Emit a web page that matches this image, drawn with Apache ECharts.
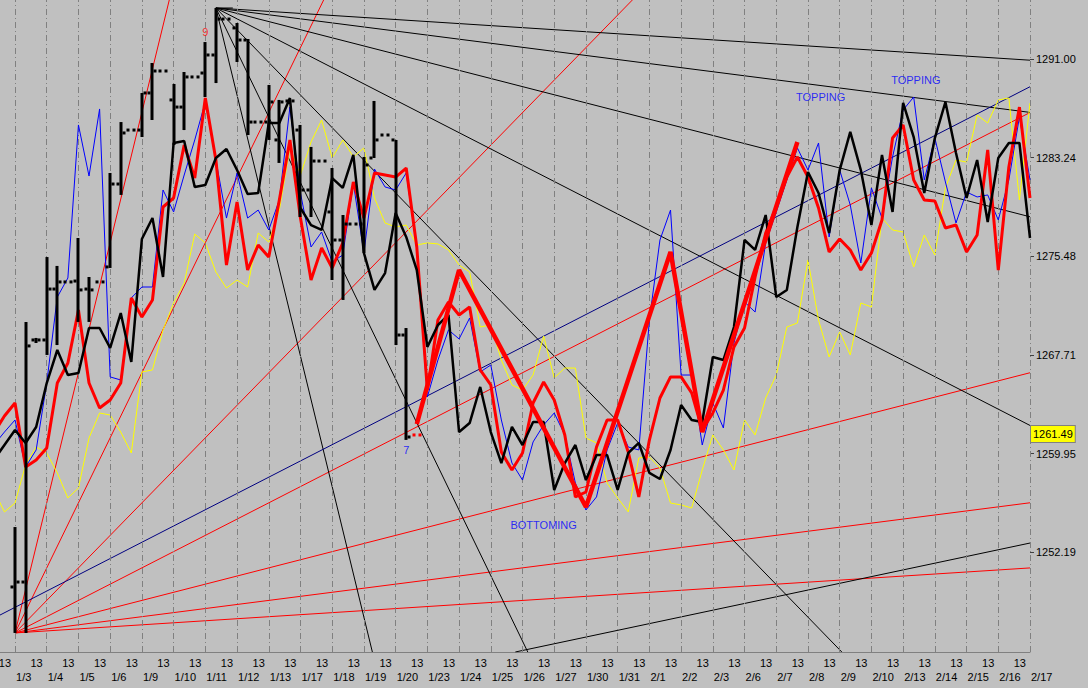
<!DOCTYPE html>
<html>
<head>
<meta charset="utf-8">
<script src="https://cdn.jsdelivr.net/npm/echarts@6/dist/echarts.min.js"></script>
<style>
html,body{margin:0;padding:0;background:#c0c0c0;}
#chart{width:1088px;height:688px;}
</style>
</head>
<body>
<div id="chart"></div>
<script>
// ---------- tick labels ----------
const dates = ['1/3','1/4','1/5','1/6','1/9','1/10','1/11','1/12','1/13','1/17','1/18','1/19','1/20','1/23','1/24','1/25','1/26','1/27','1/30','1/31','2/1','2/2','2/3','2/6','2/7','2/8','2/9','2/10','2/13','2/14','2/15','2/16','2/17'];
const timeLabels = ['13','13','13','13','13','13','13','13','13','13','13','13','13','13','13','13','13','13','13','13','13','13','13','13','13','13','13','13','13','13','13','13','13'];
const priceTicks = [1291.00, 1283.24, 1275.48, 1267.71, 1259.95, 1252.19];
const lastPrice = 1261.49;

// ---------- line series (one value per slot, first slot = -2; 3 slots per day) ----------
const firstSlot = -2;
const blueLine = [1260.62,1261.64,1262.59,1258.89,1260.23,1265.50,1272.27,1273.77,1285.82,1281.80,1287.08,1265.98,1265.74,1272.20,1273.06,1273.06,1280.70,1278.97,1281.88,1284.64,1287.63,1283.06,1278.49,1282.04,1278.49,1279.12,1277.55,1279.91,1287.23,1280.46,1276.21,1277.39,1275.03,1275.58,1281.25,1275.74,1282.35,1280.94,1280.70,1282.04,1276.21,1264.40,1267.31,1269.68,1268.97,1270.62,1266.37,1266.92,1262.59,1259.20,1257.86,1260.86,1262.20,1263.14,1261.41,1257.63,1255.50,1256.53,1260.23,1262.35,1260.46,1260.23,1270.46,1276.76,1279.12,1266.13,1266.13,1260.62,1263.93,1261.96,1268.65,1271.88,1271.09,1276.53,1278.97,1281.49,1284.01,1282.27,1284.40,1277.00,1282.27,1279.52,1274.95,1280.86,1278.49,1283.30,1287.00,1288.02,1281.49,1284.79,1281.33,1278.10,1280.54,1280.15,1280.31,1278.34,1281.49,1286.45,1281.49];
const redLine = [1261.57,1262.90,1263.93,1258.89,1259.44,1260.38,1265.50,1267.08,1271.25,1265.50,1263.53,1264.16,1265.50,1272.20,1270.70,1272.04,1279.36,1280.07,1284.24,1281.64,1287.94,1283.06,1274.79,1279.75,1274.40,1276.37,1275.42,1279.91,1284.64,1278.49,1273.61,1276.13,1274.56,1276.53,1281.33,1278.49,1282.04,1281.88,1281.72,1282.43,1276.21,1264.95,1270.46,1271.88,1270.86,1271.49,1266.53,1265.35,1260.07,1258.65,1259.99,1263.93,1265.58,1264.16,1261.41,1256.53,1256.92,1260.46,1262.59,1262.59,1260.07,1256.53,1261.01,1264.32,1265.98,1265.98,1264.72,1261.80,1263.14,1264.95,1268.34,1269.83,1273.85,1277.31,1279.36,1281.72,1283.30,1281.72,1279.28,1275.82,1276.84,1275.97,1274.40,1275.74,1278.34,1284.79,1285.82,1281.49,1279.91,1279.83,1277.71,1277.94,1275.82,1277.16,1283.85,1274.40,1282.51,1287.23,1280.07];
const blackLine = [1259.44,1260.62,1261.80,1260.78,1262.04,1265.50,1268.10,1266.13,1266.29,1269.83,1269.83,1268.26,1271.01,1267.16,1276.84,1278.49,1273.85,1284.40,1284.56,1280.94,1281.09,1283.22,1283.93,1282.27,1280.38,1280.46,1285.97,1285.97,1287.94,1279.28,1277.94,1277.55,1281.64,1280.86,1283.46,1275.74,1272.83,1274.16,1278.89,1277.00,1274.40,1268.34,1270.07,1270.86,1261.64,1262.35,1265.19,1261.64,1259.20,1262.04,1260.62,1262.43,1262.43,1257.08,1259.20,1260.62,1257.86,1259.83,1259.83,1257.08,1259.99,1260.78,1258.42,1257.94,1260.23,1263.77,1262.59,1262.43,1267.55,1267.31,1269.91,1276.76,1275.98,1278.73,1272.27,1272.83,1277.79,1282.12,1280.46,1277.31,1282.27,1285.27,1282.27,1277.94,1283.46,1278.97,1287.55,1284.87,1280.46,1284.79,1287.63,1283.61,1280.07,1283.06,1278.18,1283.22,1284.40,1284.40,1276.92];
const yellowLine = [1257.08,1255.35,1256.05,1259.05,1260.46,1259.99,1258.42,1256.45,1257.23,1261.17,1263.14,1262.98,1261.64,1259.99,1266.37,1266.53,1269.68,1271.80,1273.38,1277.23,1276.53,1274.24,1272.98,1273.61,1273.06,1277.31,1276.60,1279.12,1284.01,1281.88,1284.48,1286.21,1283.22,1284.64,1283.30,1284.01,1280.07,1278.10,1277.79,1277.94,1276.37,1276.53,1276.45,1275.98,1274.79,1274.24,1269.91,1270.07,1267.31,1265.35,1264.95,1266.13,1269.20,1265.90,1266.68,1266.68,1261.17,1260.78,1257.63,1256.45,1255.35,1259.60,1259.68,1258.81,1256.05,1255.90,1255.66,1258.65,1261.41,1260.23,1258.65,1262.59,1261.41,1264.32,1266.13,1269.91,1270.23,1275.19,1270.46,1267.55,1269.52,1267.71,1271.80,1271.49,1278.49,1277.55,1277.39,1274.64,1277.16,1275.58,1280.86,1283.06,1282.90,1286.60,1285.97,1287.79,1287.94,1279.91,1287.55];

// thick red swing line
const swingSlots = [38, 42, 54, 62, 65, 74];
const swingValues = [1262.27, 1274.40, 1255.74, 1275.82, 1261.64, 1284.48];

// ---------- OHLC bars, slots 0..38 ----------
const ohlcOpen  = [1249.44,1249.83,1268.89,1268.89,1272.90,1273.46,1273.53,1272.90,1273.46,1274.64,1281.17,1285.42,1285.42,1288.34,1290.07,1287.79,1287.23,1289.60,1289.91,1291.33,1294.16,1293.46,1292.51,1286.05,1286.05,1284.64,1287.71,1285.42,1280.70,1282.98,1278.97,1276.76,1278.02,1278.02,1283.22,1285.03,1284.64,1269.28,1261.41];
const ohlcHigh  = [1254.16,1270.31,1269.05,1275.42,1274.72,1273.46,1276.92,1273.85,1273.46,1282.04,1286.05,1285.42,1288.34,1290.70,1290.07,1289.05,1289.99,1289.60,1292.35,1295.03,1294.16,1293.85,1292.59,1286.05,1288.97,1287.79,1287.71,1285.82,1284.09,1282.98,1282.43,1278.73,1278.02,1283.30,1287.71,1285.03,1284.64,1269.83,1261.41];
const ohlcLow   = [1245.82,1245.82,1268.65,1267.71,1268.49,1273.46,1270.31,1270.31,1273.46,1274.56,1280.31,1285.42,1284.87,1286.21,1290.07,1284.24,1285.42,1289.60,1288.02,1289.12,1294.16,1290.78,1285.03,1286.05,1284.64,1282.83,1287.71,1278.57,1278.57,1282.98,1273.61,1272.04,1278.02,1275.74,1283.22,1285.03,1268.49,1261.02,1261.41];
const ohlcClose = [1249.83,1268.42,1268.89,1272.90,1273.46,1273.46,1272.83,1272.83,1273.46,1281.17,1285.19,1285.42,1288.34,1290.07,1290.07,1287.23,1289.60,1289.60,1291.33,1294.16,1294.16,1292.51,1286.05,1286.05,1287.63,1287.63,1287.71,1280.70,1282.98,1282.98,1276.76,1278.02,1278.02,1282.67,1284.64,1285.03,1269.28,1261.25,1261.41];

// ---------- fan / trend lines: [slot1, price1, slot2, price2] ----------
const blackFan = [
  [19, 1295.03, 96, 1290.92],
  [19, 1295.03, 96, 1286.81],
  [19, 1295.03, 96, 1278.59],
  [19, 1295.03, 96, 1262.16],
  [19, 1295.03, 78.2, 1244.32],
  [19, 1295.03, 48.5, 1244.32],
  [19, 1295.03, 33.8, 1244.32],
  [19, 1295.03, 20.6, 1295.03],
  [47.32, 1244.32, 96, 1252.90]
];
const redFan = [
  [0, 1245.82, 14.59, 1295.66],
  [0, 1245.82, 29.19, 1295.66],
  [0, 1245.82, 58.39, 1295.66],
  [0, 1245.82, 96, 1286.80],
  [0, 1245.82, 96, 1266.31],
  [0, 1245.82, 96, 1256.07],
  [0, 1245.82, 96, 1250.94]
];
const navyChannel = [[-1.42, 1247.23, 96, 1288.83]];

// ---------- annotations: [slot, price, text] ----------
const notes = [
  [18, 1293.14, '9'],
  [37, 1260.23, '7'],
  [76.2, 1288.02, 'TOPPING'],
  [85.2, 1289.36, 'TOPPING'],
  [50, 1254.32, 'BOTTOMING']
];

// ---------- chart ----------
const FONT = '"Liberation Sans", Arial, sans-serif';
const X_MIN = -1.42, X_MAX = 96;
const Y_MIN = 1244.32, Y_MAX = 1295.66;
const gridSlots = dates.map((d, i) => i * 3);

function lineSeries(values, color, width, z) {
  return {
    type: 'line', data: values.map((v, i) => [i + firstSlot, v]),
    symbol: 'none', lineStyle: { color, width }, z, silent: true, animation: false, clip: true
  };
}
function segSeries(seg, color, width, z) {
  return {
    type: 'line', data: [[seg[0], seg[1]], [seg[2], seg[3]]],
    symbol: 'none', lineStyle: { color, width }, z, silent: true, animation: false, clip: true
  };
}

const series = [];
// gridlines
series.push({
  type: 'scatter', data: [[-10, 1200]], symbolSize: 0, z: 1, silent: true, animation: false,
  markLine: {
    silent: true, symbol: 'none', animation: false,
    lineStyle: { color: '#808080', width: 1, type: [6, 3, 1, 3] },
    label: { show: false },
    data: gridSlots.map(v => ({ xAxis: v }))
  }
});
// last price marker
series.push({
  type: 'scatter', data: [[-10, 1200]], symbolSize: 0, z: 20, silent: true, animation: false,
  markLine: {
    silent: true, symbol: 'none', animation: false,
    lineStyle: { color: 'rgba(0,0,0,0)', width: 1, type: 'solid' },
    label: {
      show: true, position: 'end', formatter: lastPrice.toFixed(2), distance: 1,
      backgroundColor: '#ffff00', borderColor: '#808080', borderWidth: 1,
      padding: [3, 2, 2, 2], color: '#000', fontSize: 11, fontFamily: FONT
    },
    data: [{ yAxis: lastPrice }]
  }
});
redFan.forEach(s => series.push(segSeries(s, '#ff0000', 1, 3)));
blackFan.forEach(s => series.push(segSeries(s, '#000000', 1, 3)));
navyChannel.forEach(s => series.push(segSeries(s, '#000080', 1, 3)));
series.push(lineSeries(yellowLine, '#ffff00', 1, 4));
series.push(lineSeries(blueLine, '#0000ff', 1, 5));
series.push(lineSeries(redLine, '#ff0000', 3, 6));
series.push(lineSeries(blackLine, '#000000', 2.5, 7));
series.push({
  type: 'custom', z: 8, silent: true, animation: false,
  data: ohlcOpen.map((o, i) => [i, o, ohlcHigh[i], ohlcLow[i], ohlcClose[i]]),
  encode: { x: 0, y: [1, 2, 3, 4] },
  renderItem: function (params, api) {
    const s = api.value(0);
    const o = api.coord([s, api.value(1)]);
    const h = api.coord([s, api.value(2)]);
    const l = api.coord([s, api.value(3)]);
    const c = api.coord([s, api.value(4)]);
    const color = params.dataIndex === ohlcOpen.length - 1 ? '#ff0000' : '#000000';
    const x = Math.round(o[0]);
    return {
      type: 'group', children: [
        { type: 'rect', shape: { x: x - 1.5, y: h[1], width: 3, height: Math.max(0, l[1] - h[1]) }, style: { fill: color } },
        { type: 'rect', shape: { x: x - 4.5, y: o[1] - 1.5, width: 3, height: 3 }, style: { fill: color } },
        { type: 'rect', shape: { x: x + 1.5, y: c[1] - 1.5, width: 3, height: 3 }, style: { fill: color } }
      ]
    };
  }
});
series.push({
  type: 'line', data: swingSlots.map((s, i) => [s, swingValues[i]]),
  symbol: 'none', lineStyle: { color: '#ff0000', width: 4.5 }, z: 9, silent: true, animation: false
});
series.push({
  type: 'scatter', symbolSize: 0, z: 10, silent: true, animation: false,
  data: notes.map(n => ({ value: [n[0], n[1]], name: n[2], label: { color: n[2] === '9' ? '#ff0000' : '#0000ff' } })),
  label: { show: true, position: 'inside', formatter: p => p.name, fontSize: 11, fontFamily: FONT }
});

const chart = echarts.init(document.getElementById('chart'), null, { renderer: 'svg' });
chart.setOption({
  animation: false,
  backgroundColor: '#c0c0c0',
  grid: { left: 0, right: 58, top: 0, bottom: 36, containLabel: false, outerBoundsMode: 'none' },
  xAxis: [
    {
      type: 'value', min: X_MIN, max: X_MAX, position: 'bottom',
      splitLine: { show: false },
      axisLine: { show: true, onZero: false, lineStyle: { color: '#808080', width: 1 } },
      axisTick: { show: true, inside: true, length: 4, customValues: gridSlots, lineStyle: { color: '#808080' } },
      axisLabel: {
        customValues: gridSlots, formatter: v => timeLabels[Math.round(v / 3)],
        align: 'right', padding: [0, 4, 0, 0], margin: 5, color: '#000', fontSize: 11, fontFamily: FONT
      }
    },
    {
      type: 'value', min: X_MIN, max: X_MAX, position: 'bottom', offset: 14,
      splitLine: { show: false }, axisLine: { show: false, onZero: false }, axisTick: { show: false },
      axisLabel: {
        customValues: gridSlots, formatter: v => dates[Math.round(v / 3)],
        align: 'left', padding: [0, 0, 0, 1], margin: 5, color: '#000', fontSize: 11, fontFamily: FONT
      }
    }
  ],
  yAxis: {
    type: 'value', position: 'right', min: Y_MIN, max: Y_MAX,
    splitLine: { show: false },
    axisLine: { show: true, onZero: false, lineStyle: { color: 'rgba(0,0,0,0)' } },
    axisTick: { show: true, length: 4, customValues: priceTicks, lineStyle: { color: '#404040' } },
    axisLabel: {
      customValues: priceTicks, formatter: v => v.toFixed(2),
      margin: 6, color: '#000', fontSize: 11, fontFamily: FONT
    }
  },
  series: series
});
</script>
</body>
</html>
